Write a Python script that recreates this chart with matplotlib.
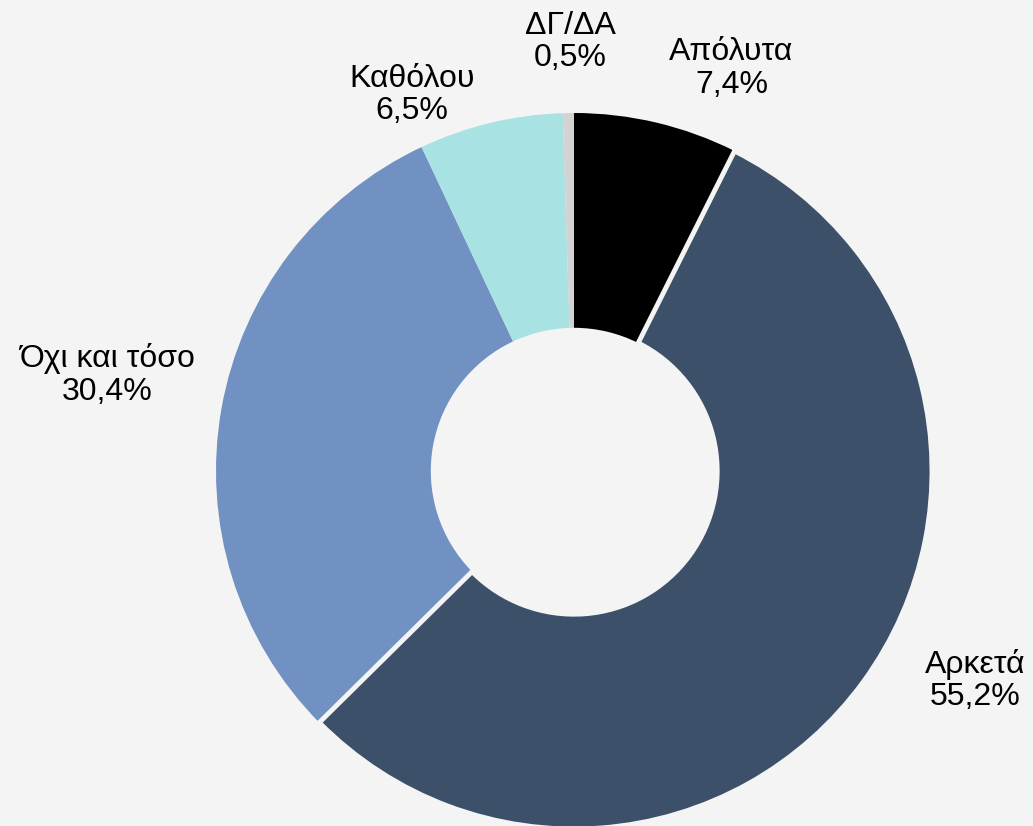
import matplotlib.pyplot as plt

plt.rcParams['font.family'] = ['Liberation Sans', 'DejaVu Sans']

# data
labels = ['Απόλυτα', 'Αρκετά', 'Όχι και τόσο', 'Καθόλου', 'ΔΓ/ΔΑ']
values = [7.4, 55.2, 30.4, 6.5, 0.5]
colors = ['#000000', '#3D5069', '#7091C2', '#A8E2E2', '#D3D3D3']

# label centres (data units, pie radius = 1)
label_pos = [(0.44, 1.125), (1.12, -0.585), (-1.305, 0.268), (-0.453, 1.05), (-0.01, 1.198)]

bg = '#F4F4F4'
W, H = 1033, 826
cx, cy, R = 574, 471, 358

fig = plt.figure(figsize=(W / 100, H / 100), dpi=100, facecolor=bg)
ax = fig.add_axes([(cx - R) / W, (H - cy - R) / H, 2 * R / W, 2 * R / H])
ax.set_facecolor(bg)

wedges, _ = ax.pie(values, colors=colors, startangle=90, counterclock=False,
                   radius=1, wedgeprops=dict(width=0.6, linewidth=0))
# only the big slice carries a background-coloured outline
wedges[1].set_edgecolor(bg)
wedges[1].set_linewidth(3.5)
wedges[1].set_zorder(5)

for lab, v, (x, y) in zip(labels, values, label_pos):
    txt = ('%s\n%.1f%%' % (lab, v)).replace('.', ',')
    ax.text(x, y, txt, ha='center', va='center', fontsize=23,
            color='#000000', linespacing=1.12, clip_on=False)

ax.set_xlim(-1, 1)
ax.set_ylim(-1, 1)
ax.set_aspect('equal')
ax.axis('off')

fig.savefig('out.png', dpi=100, facecolor=bg)
